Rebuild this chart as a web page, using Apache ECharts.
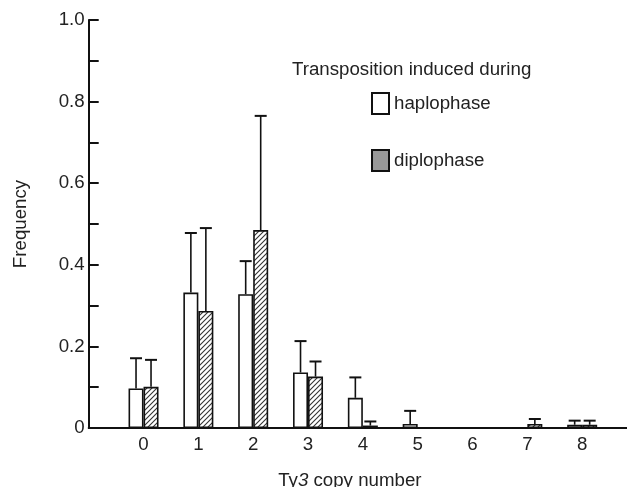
<!DOCTYPE html>
<html>
<head>
<meta charset="utf-8">
<script src="https://cdn.jsdelivr.net/npm/echarts@6/dist/echarts.min.js"></script>
<style>
html,body{margin:0;padding:0;background:#fff;}
#c{width:627px;height:487px;}
</style>
</head>
<body>
<div id="c"></div>
<script>
// ---- data ----
var categories = ['', '0', '1', '2', '3', '4', '5', '6', '7', '8', ''];
var haploValues = [null, 0.097, 0.332, 0.328, 0.136, 0.074, 0.010, 0, 0, 0.008, null];
var haploErrTop = [null, 0.171, 0.478, 0.409, 0.213, 0.124, 0.042, null, null, 0.018, null];
var diploValues = [null, 0.101, 0.287, 0.485, 0.126, 0.006, 0, 0, 0.010, 0.008, null];
var diploErrTop = [null, 0.167, 0.490, 0.765, 0.163, 0.016, null, null, 0.022, 0.018, null];
var yTickValues = [0, 0.2, 0.4, 0.6, 0.8, 1.0];
var yTickLabels = ['0', '0.2', '0.4', '0.6', '0.8', '1.0'];

var FONT = '"Liberation Sans", Arial, Helvetica, sans-serif';
var FS = 18.7;
var BAR_W = 15;

// hatch pattern
var pc = document.createElement('canvas');
pc.width = 5; pc.height = 5;
var g = pc.getContext('2d');
g.fillStyle = '#fff'; g.fillRect(0, 0, 5, 5);
g.strokeStyle = '#333'; g.lineWidth = 1.1;
g.beginPath();
g.moveTo(-1, 6); g.lineTo(6, -1);
g.moveTo(-1, 1); g.lineTo(1, -1);
g.moveTo(4, 6); g.lineTo(6, 4);
g.stroke();

function errSeries(name, vals, tops, side) {
  var data = [];
  for (var i = 0; i < categories.length; i++) {
    if (tops[i] != null) data.push([i, vals[i], tops[i]]);
  }
  return {
    type: 'custom',
    name: name + '_err',
    z: 5,
    silent: true,
    data: data,
    renderItem: function (params, api) {
      var base = api.coord([api.value(0), api.value(1)]);
      var top = api.coord([api.value(0), api.value(2)]);
      var x = base[0] + side * BAR_W / 2;
      var cap = 6;
      return {
        type: 'group',
        children: [
          {type: 'line', shape: {x1: x, y1: base[1], x2: x, y2: top[1]}, style: {stroke: '#111', lineWidth: 1.6}},
          {type: 'line', shape: {x1: x - cap, y1: top[1], x2: x + cap, y2: top[1]}, style: {stroke: '#111', lineWidth: 2}}
        ]
      };
    }
  };
}

var chart = echarts.init(document.getElementById('c'), null, {renderer: 'canvas'});
chart.setOption({
  backgroundColor: '#fff',
  animation: false,
  title: {
    text: 'Transposition induced during',
    left: 292, top: 60, padding: 0,
    textStyle: {fontFamily: FONT, fontSize: FS, fontWeight: 'normal', color: '#222'}
  },
  legend: {
    orient: 'vertical',
    left: 371, top: 92, padding: 0,
    itemWidth: 17, itemHeight: 21, itemGap: 34,
    textStyle: {fontFamily: FONT, fontSize: FS, color: '#222'},
    data: [
      {name: 'haplophase', icon: 'rect', itemStyle: {color: '#fff', borderColor: '#111', borderWidth: 2}},
      {name: 'diplophase', icon: 'rect', itemStyle: {color: '#999', borderColor: '#111', borderWidth: 2}}
    ]
  },
  grid: {left: 88.7, right: -10, top: 20, bottom: 59, containLabel: false, outerBoundsMode: 'none'},
  xAxis: {
    type: 'category',
    data: categories,
    boundaryGap: false,
    axisLine: {lineStyle: {color: '#111', width: 2}},
    axisTick: {show: false},
    axisLabel: {fontFamily: FONT, fontSize: FS, color: '#222', margin: 7, interval: 0},
    name: '{a|Ty}{i|3}{a| copy number}',
    nameLocation: 'middle',
    nameGap: 43,
    nameTextStyle: {
      padding: [0, 26, 0, 0],
      rich: {
        a: {fontFamily: FONT, fontSize: FS, color: '#222'},
        i: {fontFamily: FONT, fontSize: FS, color: '#222', fontStyle: 'italic'}
      }
    }
  },
  yAxis: {
    type: 'value',
    min: 0, max: 1, interval: 0.1,
    axisLine: {show: true, lineStyle: {color: '#111', width: 2}},
    axisTick: {show: true, inside: true, length: 10, lineStyle: {color: '#111', width: 2}},
    splitLine: {show: false},
    axisLabel: {
      fontFamily: FONT, fontSize: FS, color: '#222', margin: 4,
      formatter: function (v) {
        for (var k = 0; k < yTickValues.length; k++) {
          if (Math.abs(v - yTickValues[k]) < 1e-6) return yTickLabels[k];
        }
        return '';
      }
    },
    name: 'Frequency',
    nameLocation: 'middle',
    nameGap: 58,
    nameTextStyle: {fontFamily: FONT, fontSize: FS, color: '#222'}
  },
  series: [
    {
      type: 'bar', name: 'haplophase', data: haploValues,
      barWidth: BAR_W, barGap: '0%',
      itemStyle: {color: '#fff', borderColor: '#111', borderWidth: 1.6}
    },
    {
      type: 'bar', name: 'diplophase', data: diploValues,
      barWidth: BAR_W, barGap: '0%',
      itemStyle: {color: {image: pc, repetition: 'repeat'}, borderColor: '#111', borderWidth: 1.6}
    },
    errSeries('haplophase', haploValues, haploErrTop, -1),
    errSeries('diplophase', diploValues, diploErrTop, 1)
  ]
});
</script>
</body>
</html>
